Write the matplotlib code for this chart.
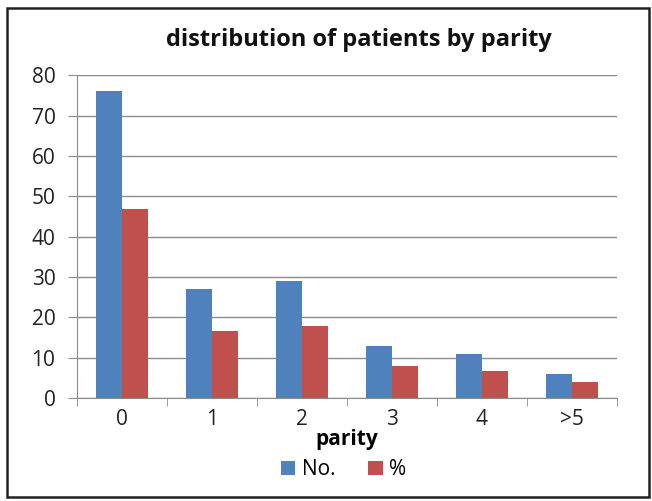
import numpy as np
import matplotlib.pyplot as plt
from matplotlib.patches import Rectangle

categories = ['0', '1', '2', '3', '4', '>5']
counts = [76, 27, 29, 13, 11, 6]
percent = [46.8, 16.7, 17.8, 8.0, 6.8, 3.9]

plt.rcParams['font.family'] = ['Open Sans', 'DejaVu Sans']

fig = plt.figure(figsize=(6.52, 5.01), dpi=100)
ax = fig.add_axes([0.118, 0.2056, 0.828, 0.6444])

x = np.arange(len(categories))
w = 0.29
ax.bar(x - w / 2, counts, w, color='#4F81BD', label='No.', zorder=3)
ax.bar(x + w / 2, percent, w, color='#C0504D', label='%', zorder=3)

ax.set_xlim(-0.5, len(categories) - 0.5)
ax.set_ylim(0, 80)
ax.set_yticks(range(0, 81, 10))
ax.yaxis.grid(True, color='#8c8c8c', linewidth=1, zorder=0)
ax.set_xticks(x)
ax.set_xticklabels(categories)
ax.set_xticks(np.arange(-0.5, len(categories), 1), minor=True)
ax.tick_params(axis='x', which='major', length=0, labelsize=15, pad=8, labelcolor='#222222')
ax.tick_params(axis='x', which='minor', length=6, color='#8c8c8c', direction='out')
ax.tick_params(axis='y', length=6.5, color='#8c8c8c', labelsize=15, pad=9, labelcolor='#222222')
for s in ['top', 'right']:
    ax.spines[s].set_visible(False)
for s in ['left', 'bottom']:
    ax.spines[s].set_color('#8c8c8c')

ax.set_xlabel('parity', fontsize=15, fontweight='bold', labelpad=-1)
fig.text(0.551, 0.92, 'distribution of patients by parity', fontsize=17,
         fontweight='bold', ha='center', va='center', color='#111111')
fig.legend(loc='center', bbox_to_anchor=(0.527, 0.062), ncol=2, frameon=False,
           fontsize=15, handlelength=0.7, handleheight=0.7, columnspacing=1.6,
           handletextpad=0.3)

fig.patches.append(Rectangle((0.011, 0.008), 0.984, 0.977, transform=fig.transFigure,
                             fill=False, edgecolor='#222222', linewidth=1.8))

fig.savefig('out.png', dpi=100)
